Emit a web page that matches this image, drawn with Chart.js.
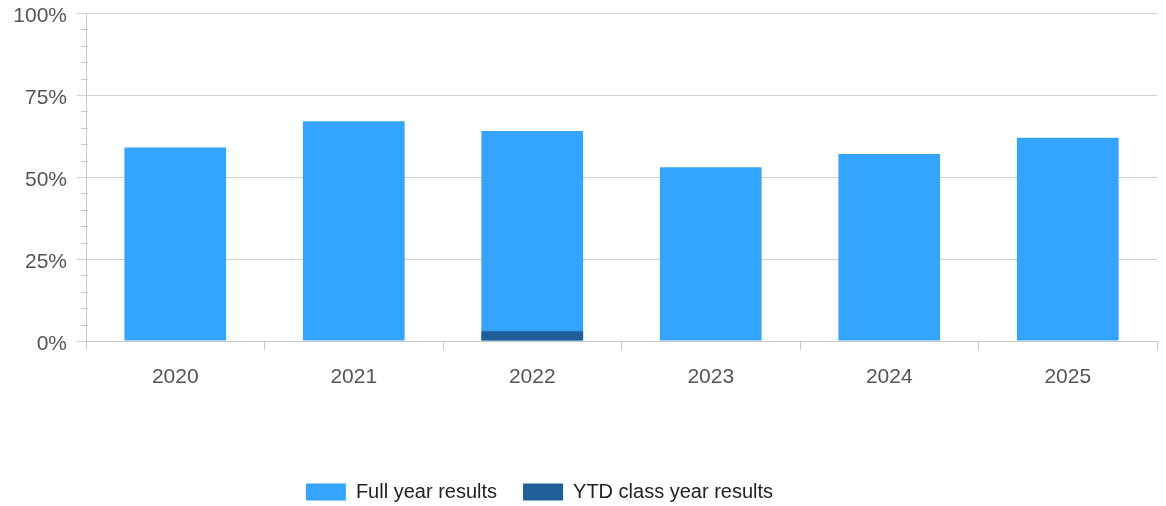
<!DOCTYPE html>
<html>
<head>
<meta charset="utf-8">
<script src="https://cdn.jsdelivr.net/npm/chart.js@4/dist/chart.umd.min.js"></script>
<style>
  html, body { margin: 0; padding: 0; background: #fff; }
  #wrap { width: 1166px; height: 506px; }
</style>
</head>
<body>
<div id="wrap"><canvas id="myChart"></canvas></div>
<script>
const years = ['2020', '2021', '2022', '2023', '2024', '2025'];
const fullYearResults = [59, 67, 64, 53, 57, 62];
const ytdClassResults = [null, null, 3, null, null, null];
const yTicks = [0, 25, 50, 75, 100];
const minorStep = 5;

// short marks on the y axis line between the labelled ticks
const minorTicks = {
    id: 'minorTicks',
    afterDraw(chart) {
        const y = chart.scales.y;
        const ctx = chart.ctx;
        ctx.save();
        ctx.strokeStyle = '#c8c8c8';
        ctx.lineWidth = 1;
        for (let v = yTicks[0]; v <= yTicks[yTicks.length - 1]; v += minorStep) {
            if (yTicks.includes(v)) continue;
            const py = Math.round(y.getPixelForValue(v)) + 0.5;
            ctx.beginPath();
            ctx.moveTo(y.right - 5, py);
            ctx.lineTo(y.right + 2, py);
            ctx.stroke();
        }
        ctx.restore();
    }
};

// nudge the legend a bit left and down from its default box
const legendShift = {
    id: 'legendShift',
    afterLayout(chart) {
        const lg = chart.legend;
        lg.right -= 78;
        lg.top += 6;
        lg.bottom += 6;
    }
};

Chart.defaults.font.family = "'Liberation Sans', Arial, sans-serif";

const ctx = document.getElementById('myChart').getContext('2d');
const myChart = new Chart(ctx, {
    type: 'bar',
    data: {
        labels: years,
        datasets: [{
            label: 'Full year results',
            data: fullYearResults,
            backgroundColor: '#34a4ff',
            grouped: false,
            order: 2
        }, {
            label: 'YTD class year results',
            data: ytdClassResults,
            backgroundColor: '#1f5e98',
            grouped: false,
            order: 1
        }]
    },
    options: {
        responsive: true,
        maintainAspectRatio: false,
        animation: false,
        layout: {
            padding: { top: 13, right: 9, bottom: 0, left: 0 }
        },
        datasets: {
            bar: { barPercentage: 0.57, categoryPercentage: 1.0 }
        },
        scales: {
            x: {
                grid: {
                    drawOnChartArea: false,
                    color: '#c8c8c8',
                    tickLength: 9
                },
                border: { color: '#c8c8c8' },
                ticks: {
                    color: '#555',
                    font: { size: 21 },
                    padding: 15
                },
                afterFit(scale) {
                    scale.height = 109;
                }
            },
            y: {
                min: 0,
                max: 100,
                afterBuildTicks(scale) {
                    scale.ticks = yTicks.map(v => ({ value: v }));
                },
                afterFit(scale) {
                    scale.width = 86;
                    scale.paddingTop = 0;
                    scale.paddingBottom = 0;
                },
                grid: {
                    color: '#d0d0d0',
                    tickLength: 9
                },
                border: { color: '#c8c8c8' },
                ticks: {
                    color: '#555',
                    font: { size: 21 },
                    padding: 10,
                    labelOffset: 3,
                    callback: v => v + '%'
                }
            }
        },
        plugins: {
            legend: {
                position: 'bottom',
                reverse: true,
                labels: {
                    boxWidth: 40,
                    boxHeight: 17,
                    padding: 26,
                    color: '#222',
                    font: { size: 20 }
                }
            },
            tooltip: { enabled: false }
        }
    },
    plugins: [minorTicks, legendShift]
});
</script>
</body>
</html>
